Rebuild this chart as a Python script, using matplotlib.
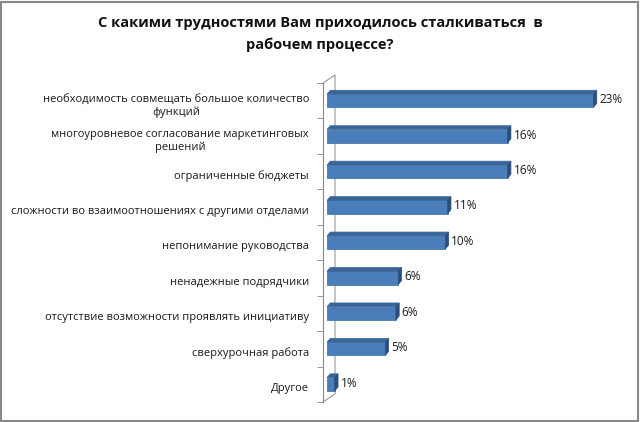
import numpy as np
import matplotlib
matplotlib.use('Agg')
import matplotlib.pyplot as plt
import matplotlib.transforms as mtransforms
from matplotlib.patches import Polygon, Rectangle

# data
labels = ['необходимость совмещать большое количество\nфункций',
          'многоуровневое согласование маркетинговых\nрешений',
          'ограниченные бюджеты',
          'сложности во взаимоотношениях с другими отделами',
          'непонимание руководства',
          'ненадежные подрядчики',
          'отсутствие возможности проявлять инициативу',
          'сверхурочная работа',
          'Другое']
values = [23.0, 15.7, 15.7, 10.6, 10.4, 6.4, 6.2, 5.3, 1.0]
value_text = ['23%', '16%', '16%', '11%', '10%', '6%', '6%', '5%', '1%']

plt.rcParams['font.family'] = ['Open Sans', 'DejaVu Sans']

fig = plt.figure(figsize=(6.4, 4.22), dpi=100)
W, H = 640, 422
# axes: front axis line at x=323, y from 83 to 402 px
ax = fig.add_axes([323 / W, (H - 402) / H, (617 - 323) / W, (402 - 83) / H])

n = len(values)
y = np.arange(n)
bh = 0.37
dx, dy = 0.28, 0.11
left = 0.34
front = '#4A7EBB'
top = '#3A6599'
side = '#2A4E7A'

widths = [v - left for v in values]
ax.barh(y, widths, height=bh, left=left, color=front, edgecolor='#3A6A9E', linewidth=0.5, zorder=3)
for yi, v in zip(y, values):
    x0, x1 = left, v
    yt = yi - bh / 2
    ax.add_patch(Polygon([(x0, yt), (x0 + dx, yt - dy), (x1 + dx, yt - dy), (x1, yt)],
                         closed=True, facecolor=top, edgecolor=top, lw=0.5, zorder=3))
    yb = yi + bh / 2
    ax.add_patch(Polygon([(x1, yt), (x1 + dx, yt - dy), (x1 + dx, yb - dy), (x1, yb)],
                         closed=True, facecolor=side, edgecolor=side, lw=0.5, zorder=3))

for yi, v, t in zip(y, values, value_text):
    ax.text(v + dx + 0.22, yi - 0.03, t, va='center', ha='left', fontsize=8.5, color='#1a1a1a')

ax.set_xlim(0, 25)
ax.set_ylim(n - 0.5, -0.5)
ax.set_yticks(y)
ax.set_yticklabels(labels, fontsize=8, color='#1a1a1a', multialignment='center')
ax.set_yticks(np.arange(n + 1) - 0.5, minor=True)
ax.tick_params(axis='y', which='major', length=0, pad=10)
ax.tick_params(axis='y', which='minor', length=4, color='#888888', direction='out')
ax.set_xticks([])
# labels sit a little below the bar centres
shift = mtransforms.ScaledTranslation(0, -2 / 72, fig.dpi_scale_trans)
for lab in ax.get_yticklabels():
    lab.set_transform(lab.get_transform() + shift)
for s in ['top', 'right', 'bottom']:
    ax.spines[s].set_visible(False)
ax.spines['left'].set_color('#888888')

# back wall of the 3d plot
bx = 12 / 294 * 25
by = 8 / 35.4
ax.plot([0, bx, bx, 0], [-0.5, -0.5 - by, n - 0.5 - by, n - 0.5], color='#999999', lw=0.8,
        clip_on=False, zorder=1)

fig.text(0.5, 1 - 34 / H, 'С какими трудностями Вам приходилось сталкиваться  в\nрабочем процессе?',
         ha='center', va='center', fontsize=10.5, fontweight='bold', linespacing=1.6, color='#111111')

fig.patches.append(Rectangle((0.002, 0.003), 0.995, 0.993, transform=fig.transFigure,
                             fill=False, edgecolor='#888888', lw=1.5))

fig.savefig('out.png', dpi=100)
